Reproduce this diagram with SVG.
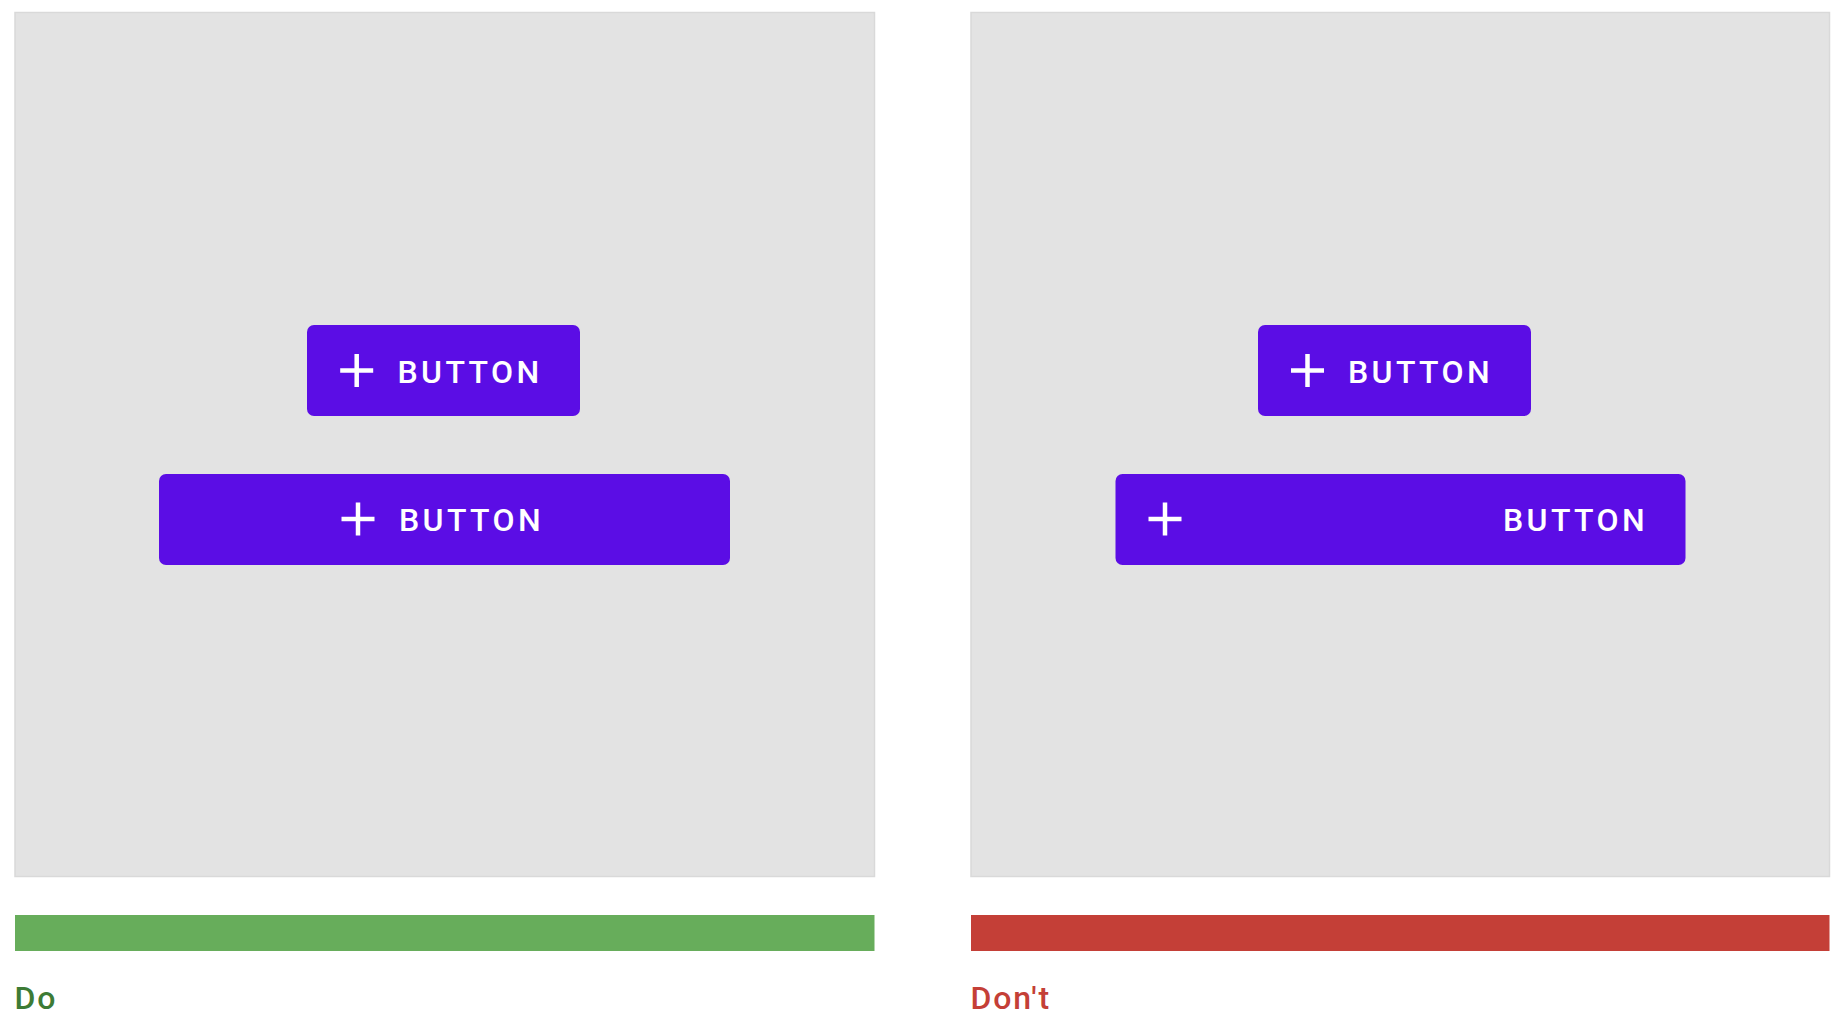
<svg xmlns="http://www.w3.org/2000/svg" width="1848" height="1026" viewBox="0 0 1848 1026">
<style>
.panel{fill:#e3e3e3;stroke:#d9d9d9;stroke-width:1.5}
.btn{fill:#5b0de5}
.lbl{font-family:Roboto,"Liberation Sans",sans-serif;font-weight:500;font-size:32px;letter-spacing:3.4px;fill:#ffffff}
.plus{stroke:#ffffff;stroke-width:4.5;fill:none}
.cap{font-family:Roboto,"Liberation Sans",sans-serif;font-weight:500;font-size:32px;letter-spacing:1.8px}
</style>
<rect width="1848" height="1026" fill="#ffffff"/>
<g id="do-panel">
<rect class="panel" x="15" y="12.5" width="859.5" height="864"/>
<g id="do-button-1">
<rect class="btn" x="307" y="325" width="273" height="91" rx="7"/>
<path class="plus" d="M340.2 370.5H373.2M356.7 354V387"/>
<text class="lbl" x="397.5" y="382.5">BUTTON</text>
</g>
<g id="do-button-2">
<rect class="btn" x="159" y="474" width="571" height="91" rx="7"/>
<path class="plus" d="M341.5 519H374.5M358 502.5V535.5"/>
<text class="lbl" x="399" y="531">BUTTON</text>
</g>
<rect id="do-bar" x="15" y="915" width="859.5" height="36" fill="#67ad5b"/>
<text id="do-label" class="cap" x="14.5" y="1008.5" fill="#3d7b35">Do</text>
</g>
<g id="dont-panel">
<rect class="panel" x="971" y="12.5" width="858.5" height="864"/>
<g id="dont-button-1">
<rect class="btn" x="1258" y="325" width="273" height="91" rx="7"/>
<path class="plus" d="M1291 370.5H1324M1307.5 354V387"/>
<text class="lbl" x="1348" y="382.5">BUTTON</text>
</g>
<g id="dont-button-2">
<rect class="btn" x="1115.5" y="474" width="570" height="91" rx="7"/>
<path class="plus" d="M1148.5 519H1181.5M1165 502.5V535.5"/>
<text class="lbl" x="1503" y="531">BUTTON</text>
</g>
<rect id="dont-bar" x="971" y="915" width="858.5" height="36" fill="#c43f37"/>
<text id="dont-label" class="cap" x="970.5" y="1008.5" fill="#c43f37">Don't</text>
</g>
<g id="connectors"></g>
</svg>
